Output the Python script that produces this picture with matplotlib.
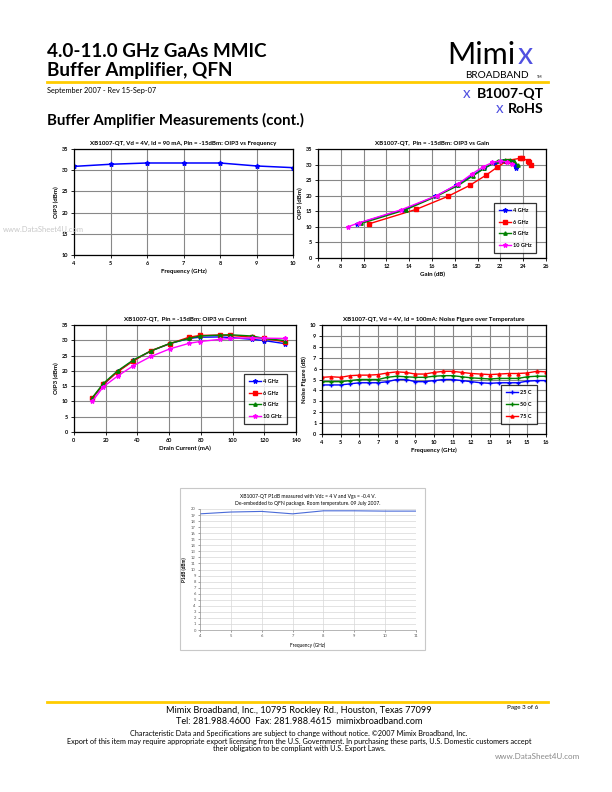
import matplotlib
matplotlib.use("Agg")
import matplotlib.pyplot as plt
from matplotlib.patches import Rectangle
from matplotlib.lines import Line2D

W, H = 612, 792

# ---- data ----
freq1 = [4, 5, 6, 7, 8, 9, 10]
oip3_freq = [30.9, 31.4, 31.7, 31.7, 31.7, 31.0, 30.6]

gain_4 = [9.4, 13.5, 16.3, 18.1, 20.6, 21.5, 22.2, 22.5, 22.9, 23.1, 23.3, 23.4]
oip3_g4 = [11.0, 15.5, 19.8, 23.3, 28.9, 30.6, 31.1, 31.3, 31.0, 30.4, 29.9, 29.0]
gain_6 = [10.5, 14.6, 17.4, 19.3, 20.7, 21.7, 22.6, 23.7, 23.9, 24.4, 24.5, 24.7]
oip3_g6 = [11.0, 15.6, 19.8, 23.3, 26.5, 29.1, 31.3, 32.0, 32.0, 31.3, 30.7, 29.8]
gain_8 = [9.8, 13.7, 16.4, 18.3, 19.6, 20.6, 21.8, 22.4, 22.8, 23.2, 23.5]
oip3_g8 = [11.1, 15.5, 19.8, 23.3, 26.4, 28.8, 31.3, 31.5, 31.6, 31.0, 30.0]
gain_10 = [8.6, 9.6, 13.3, 16.4, 18.3, 19.5, 20.5, 21.3, 22.0, 22.6, 23.0]
oip3_g10 = [10.0, 11.3, 15.5, 20.0, 23.8, 27.0, 29.3, 30.7, 31.1, 30.9, 30.3]

current = [11.5, 18.5, 27.5, 37.5, 48.5, 60.5, 72.5, 79.5, 92, 98.5, 112.5, 120, 133]
oip3_i4 = [11.0, 15.5, 19.8, 23.4, 26.5, 28.9, 30.6, 31.0, 31.1, 30.9, 30.3, 29.9, 28.9]
oip3_i6 = [11.1, 15.6, 19.7, 23.3, 26.6, 28.9, 31.0, 31.6, 31.7, 31.6, 31.0, 30.6, 29.5]
oip3_i8 = [11.2, 15.9, 20.0, 23.6, 26.5, 29.0, 30.6, 31.4, 31.7, 31.8, 31.4, 30.6, 29.9]
oip3_i10 = [10.0, 14.8, 18.3, 21.7, 24.7, 27.2, 29.0, 29.6, 30.3, 30.6, 30.8, 30.7, 30.6]

freq_nf = [4, 4.5, 5, 5.5, 6, 6.5, 7, 7.5, 8, 8.5, 9, 9.5, 10, 10.5, 11, 11.5,
           12, 12.5, 13, 13.5, 14, 14.5, 15, 15.5, 16]
nf_25 = [4.5, 4.5, 4.5, 4.6, 4.7, 4.7, 4.7, 4.8, 5.0, 5.0, 4.8, 4.8, 4.9, 5.0,
         5.0, 4.9, 4.8, 4.7, 4.65, 4.7, 4.7, 4.7, 4.85, 4.9, 4.9]
nf_50 = [4.8, 4.8, 4.8, 4.9, 5.0, 5.0, 5.0, 5.2, 5.3, 5.25, 5.2, 5.2, 5.3, 5.35,
         5.35, 5.25, 5.15, 5.1, 5.05, 5.1, 5.1, 5.1, 5.25, 5.3, 5.3]
nf_75 = [5.2, 5.25, 5.2, 5.35, 5.4, 5.4, 5.45, 5.6, 5.7, 5.65, 5.5, 5.5, 5.65,
         5.75, 5.75, 5.65, 5.55, 5.5, 5.45, 5.5, 5.55, 5.55, 5.6, 5.75, 5.7]

freq_p1 = [4, 5, 6, 7, 8, 9, 10, 11]
p1db = [19.2, 19.5, 19.6, 19.2, 19.7, 19.7, 19.65, 19.65]

BLUE, RED, GREEN, MAG = "#0000ff", "#ff0000", "#008000", "#ff00ff"
LOGO = "#5050e0"
plt.rcParams["font.family"] = ["Lato", "DejaVu Sans"]


def px(x, y):
    return x / W, 1 - y / H


def box(x0, y0, x1, y1):
    return [x0 / W, 1 - y1 / H, (x1 - x0) / W, (y1 - y0) / H]


def style(ax, title, xlabel, ylabel, xlim, xt, ylim, yt):
    ax.set_xlim(*xlim); ax.set_ylim(*ylim)
    ax.set_xticks(xt); ax.set_yticks(yt)
    ax.grid(True, color="#888888", linewidth=0.8)
    ax.set_axisbelow(True)
    for s in ax.spines.values():
        s.set_linewidth(0.9); s.set_color("black")
    ax.tick_params(labelsize=4, length=2, width=0.6, pad=2)
    for lab in ax.get_xticklabels() + ax.get_yticklabels():
        lab.set_fontweight("bold")
    ax.set_title(title, fontsize=4.4, fontweight="bold", pad=3)
    ax.set_xlabel(xlabel, fontsize=4.4, fontweight="bold", labelpad=2)
    ax.set_ylabel(ylabel, fontsize=4.4, fontweight="bold", labelpad=2)


def legend(ax, loc, anchor):
    lg = ax.legend(loc=loc, bbox_to_anchor=anchor, fontsize=4, frameon=True,
                   fancybox=False, handlelength=2.2, borderpad=0.9,
                   labelspacing=1.2, handletextpad=0.3)
    lg.get_frame().set_edgecolor("black")
    lg.get_frame().set_linewidth(0.9)
    for t in lg.get_texts():
        t.set_fontweight("bold")


fig = plt.figure(figsize=(W / 100, H / 100), dpi=100)

# ---- page header ----
fig.text(*px(47, 57), "4.0-11.0 GHz GaAs MMIC", fontsize=13.6,
         fontweight="bold", va="baseline")
fig.text(*px(47, 76), "Buffer Amplifier, QFN", fontsize=13.6,
         fontweight="bold", va="baseline")
fig.add_artist(Line2D([47 / W, 548 / W], [1 - 82 / H] * 2,
                      color="#ffcc00", linewidth=2))
fig.text(*px(47, 93), "September 2007 - Rev 15-Sep-07", fontsize=5.3,
         va="baseline")
fig.text(*px(47, 125), "Buffer Amplifier Measurements (cont.)", fontsize=10.8,
         fontweight="bold", va="baseline")

# logo
fig.text(*px(447, 64), "Mimi", fontsize=22, va="baseline")
fig.text(*px(518, 64), "x", fontsize=22, va="baseline", color=LOGO)
fig.text(*px(465, 78.5), "BROADBAND", fontsize=7.2, va="baseline")
fig.text(*px(537, 78.5), "TM", fontsize=2.6, va="baseline")
fig.text(*px(463, 98), "x", fontsize=11, color=LOGO, va="baseline")
fig.text(*px(477, 98), "B1007-QT", fontsize=10.2, fontweight="bold",
         va="baseline")
fig.text(*px(496, 113), "x", fontsize=11, color=LOGO, va="baseline")
fig.text(*px(508, 113), "RoHS", fontsize=10.2, fontweight="bold",
         va="baseline")

# ---- chart 1: OIP3 vs frequency ----
ax1 = fig.add_axes(box(74, 149, 293, 255))
ax1.plot(freq1, oip3_freq, color=BLUE, marker="*", markersize=3.5,
         linewidth=1.1)
style(ax1, "XB1007-QT, Vd = 4V, Id = 90 mA, Pin = -15dBm: OIP3 vs Frequency",
      "Frequency (GHz)", "OIP3 (dBm)", (4, 10), range(4, 11),
      (10, 35), range(10, 36, 5))

# ---- chart 2: OIP3 vs gain ----
ax2 = fig.add_axes(box(318, 149, 546, 258))
ax2.plot(gain_4, oip3_g4, color=BLUE, marker="*", markersize=3.2,
         linewidth=1.0, label="4 GHz")
ax2.plot(gain_6, oip3_g6, color=RED, marker="s", markersize=2.4,
         linewidth=1.0, label="6 GHz")
ax2.plot(gain_8, oip3_g8, color=GREEN, marker="^", markersize=2.4,
         linewidth=1.0, label="8 GHz")
ax2.plot(gain_10, oip3_g10, color=MAG, marker="*", markersize=3.2,
         linewidth=1.0, label="10 GHz")
style(ax2, "XB1007-QT,  Pin = -15dBm: OIP3 vs Gain", "Gain (dB)",
      "OIP3 (dBm)", (6, 26), range(6, 27, 2), (0, 35), range(0, 36, 5))
legend(ax2, "lower right", (0.97, 0.02))

# ---- chart 3: OIP3 vs current ----
ax3 = fig.add_axes(box(74, 325, 296, 432))
ax3.plot(current, oip3_i4, color=BLUE, marker="*", markersize=3.2,
         linewidth=1.0, label="4 GHz")
ax3.plot(current, oip3_i6, color=RED, marker="s", markersize=2.4,
         linewidth=1.0, label="6 GHz")
ax3.plot(current, oip3_i8, color=GREEN, marker="^", markersize=2.4,
         linewidth=1.0, label="8 GHz")
ax3.plot(current, oip3_i10, color=MAG, marker="*", markersize=3.2,
         linewidth=1.0, label="10 GHz")
style(ax3, "XB1007-QT,  Pin = -15dBm: OIP3 vs Current", "Drain Current (mA)",
      "OIP3 (dBm)", (0, 140), range(0, 141, 20), (0, 35), range(0, 36, 5))
legend(ax3, "lower right", (0.97, 0.05))

# ---- chart 4: noise figure over temperature ----
ax4 = fig.add_axes(box(322, 325, 546, 434))
ax4.plot(freq_nf, nf_25, color=BLUE, marker="+", markersize=2.8,
         linewidth=1.0, label="25 C")
ax4.plot(freq_nf, nf_50, color=GREEN, marker="+", markersize=2.8,
         linewidth=1.0, label="50 C")
ax4.plot(freq_nf, nf_75, color=RED, marker="^", markersize=2.2,
         linewidth=1.0, label="75 C")
style(ax4, "XB1007-QT, Vd = 4V, Id = 100mA: Noise Figure over Temperature",
      "Frequency (GHz)", "Noise Figure (dB)", (4, 16), range(4, 17),
      (0, 10), range(0, 11))
legend(ax4, "lower right", (0.97, 0.07))

# ---- chart 5: P1dB ----
fig.add_artist(Rectangle((180 / W, 1 - 650 / H), 245 / W, 162 / H,
                         transform=fig.transFigure, fill=False,
                         edgecolor="#c8c8c8", linewidth=0.8))
ax5 = fig.add_axes(box(200, 509, 416, 630))
ax5.plot(freq_p1, p1db, color="#4a6bd8", linewidth=0.8)
ax5.set_xlim(4, 11); ax5.set_ylim(0, 20)
ax5.set_xticks(range(4, 12)); ax5.set_yticks(range(0, 21))
ax5.grid(True, color="#d8d8d8", linewidth=0.5)
ax5.set_axisbelow(True)
for s in ["top", "right"]:
    ax5.spines[s].set_visible(False)
for s in ["left", "bottom"]:
    ax5.spines[s].set_color("#999999"); ax5.spines[s].set_linewidth(0.5)
ax5.tick_params(labelsize=3, length=1.5, width=0.4, colors="#555555", pad=1.5)
ax5.set_title("XB1007-QT P1dB measured with Vdc = 4 V and Vgs = -0.4 V.\n"
              "De-embedded to QFN package. Room temperature. 09 July 2007.",
              fontsize=3.6, pad=3, linespacing=1.5)
ax5.set_xlabel("Frequency (GHz)", fontsize=3.4, labelpad=3)
ax5.set_ylabel("P1dB (dBm)", fontsize=3.4, labelpad=3, fontweight="bold")

# ---- footer ----
fig.add_artist(Line2D([47 / W, 548 / W], [1 - 702 / H] * 2,
                      color="#ffcc00", linewidth=2))
fig.text(*px(299, 713), "Mimix Broadband, Inc., 10795 Rockley Rd., Houston, "
         "Texas 77099", fontsize=6.6, ha="center", va="baseline")
fig.text(*px(299, 724), "Tel: 281.988.4600  Fax: 281.988.4615  "
         "mimixbroadband.com", fontsize=6.6, ha="center", va="baseline")
fig.text(*px(538, 709), "Page 3 of 6", fontsize=4.5, ha="right",
         va="baseline")
fig.text(*px(299, 736), "Characteristic Data and Specifications are subject "
         "to change without notice. \u00a92007 Mimix Broadband, Inc.",
         fontsize=5.2, ha="center", va="baseline")
fig.text(*px(299, 743.5), "Export of this item may require appropriate export "
         "licensing from the U.S. Government. In purchasing these parts, "
         "U.S. Domestic customers accept", fontsize=5.2, ha="center",
         va="baseline")
fig.text(*px(299, 751), "their obligation to be compliant with U.S. Export "
         "Laws.", fontsize=5.2, ha="center", va="baseline")

# watermarks
fig.text(*px(3, 232), "www.DataSheet4U.com", fontsize=5.5, color="#c8c8c8",
         va="baseline")
fig.text(*px(580, 759), "www.DataSheet4U.com", fontsize=5.8,
         color="#888888", ha="right", va="baseline")

fig.savefig("out.png", dpi=100)
